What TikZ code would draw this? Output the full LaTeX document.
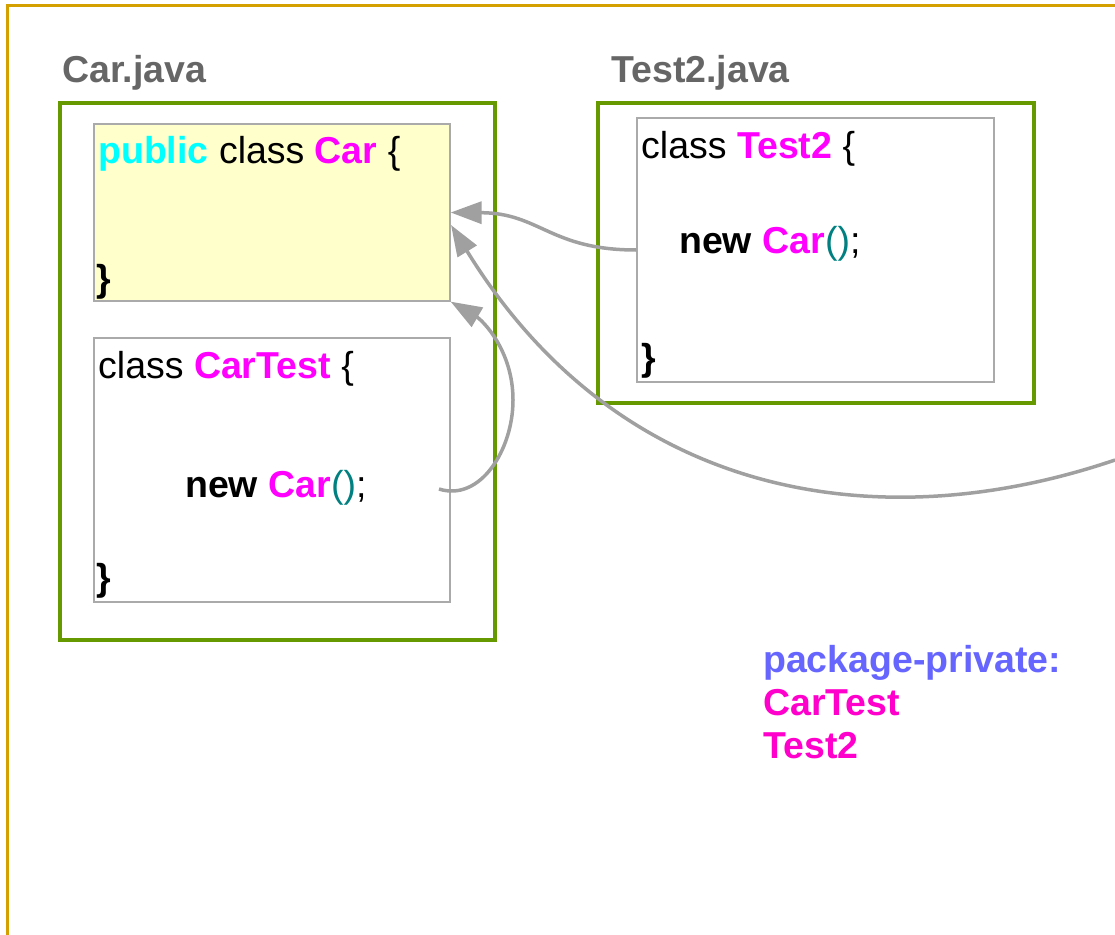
\documentclass[tikz,border=0pt]{standalone}
\usepackage{fontspec}
\setmainfont{Liberation Sans}
\usetikzlibrary{arrows.meta}

\definecolor{pkgframe}{HTML}{D4A000}
\definecolor{fileframe}{HTML}{669900}
\definecolor{boxline}{HTML}{AAAAAA}
\definecolor{pubfill}{HTML}{FFFFCC}
\definecolor{filelabel}{HTML}{666666}
\definecolor{kwpublic}{HTML}{00FFFF}
\definecolor{clsname}{HTML}{FF00FF}
\definecolor{listname}{HTML}{FF00CC}
\definecolor{paren}{HTML}{008080}
\definecolor{pkgnote}{HTML}{6666FF}
\definecolor{link}{HTML}{A0A0A0}

\newcommand{\codefont}{\fontsize{37.5}{43}\selectfont}
\newcommand{\cls}[1]{\textcolor{clsname}{\textbf{#1}}}
\newcommand{\newcall}{\textbf{new} \cls{Car}\textcolor{paren}{()};}

\begin{document}
\begin{tikzpicture}[x=1pt,y=-1pt,
  filebox/.style={draw=fileframe, line width=3.5pt, minimum width=#1},
  classbox/.style={draw=boxline, line width=1.3pt, fill=white, inner sep=0pt},
  codeline/.style={anchor=base west, inner sep=0pt, font=\codefont},
  filename/.style={anchor=base west, inner sep=0pt, font=\codefont\bfseries, text=filelabel},
  noteline/.style={anchor=base west, inner sep=0pt, font=\codefont\bfseries},
  uses/.style={draw=link, line width=3.5pt, -{Triangle[length=31pt,width=22pt]}}]

\useasboundingbox (0,0) rectangle (1115,934);
\clip (0,0) rectangle (1115,934);

% package frame (runs on past the right and bottom edges)
\draw[pkgframe, line width=3pt] (7.5,960) -- (7.5,6) -- (1140,6);

% file labels
\node[filename] (carjava) at (62,82) {Car.java};
\node[filename] (testjava) at (611,82) {Test2.java};

% file boxes
\node[filebox=435pt, minimum height=537pt] (carfile) at (277.5,371.5) {};
\node[filebox=436pt, minimum height=300pt] (testfile) at (816,253) {};

% class boxes
\node[classbox, fill=pubfill, minimum width=356pt, minimum height=177pt] (carcls) at (272,212.5) {};
\node[classbox, minimum width=356pt, minimum height=264pt] (cartestcls) at (272,470) {};
\node[classbox, minimum width=357pt, minimum height=264pt] (testcls) at (815.5,250) {};

% Car.java code
\node[codeline] (carhead) at (98,163) {\textcolor{kwpublic}{\textbf{public}} class \cls{Car} \{};
\node[codeline] (carend) at (96,291) {\textbf{\}}};
\node[codeline] (cthead) at (98,378) {class \cls{CarTest} \{};
\node[codeline] (ctnew) at (185,497) {\newcall};
\node[codeline] (ctend) at (96,590) {\textbf{\}}};

% Test2.java code
\node[codeline] (t2head) at (641,158) {class \cls{Test2} \{};
\node[codeline] (t2new) at (679,253) {\newcall};
\node[codeline] (t2end) at (641,370) {\textbf{\}}};

% note
\node[noteline, text=pkgnote] (notehead) at (763,672) {package-private:};
\node[noteline, text=listname] (notecartest) at (763,715) {CarTest};
\node[noteline, text=listname] (notetest) at (763,758) {Test2};

% connector ends
\coordinate (ctcall) at (439,489);
\coordinate (farcall) at (1115,460);
\coordinate (cartip) at (451,225);

% uses of Car
\draw[uses] (testcls.west) .. controls (550,250) and (540,213) .. (carcls.east);
\draw[uses] (farcall) .. controls (880,540) and (620,500) .. (cartip);
\draw[uses] (ctcall) .. controls (480,502) and (513,450) .. (513,400)
  .. controls (513,350) and (482,320) .. (carcls.south east);
\end{tikzpicture}
\end{document}
